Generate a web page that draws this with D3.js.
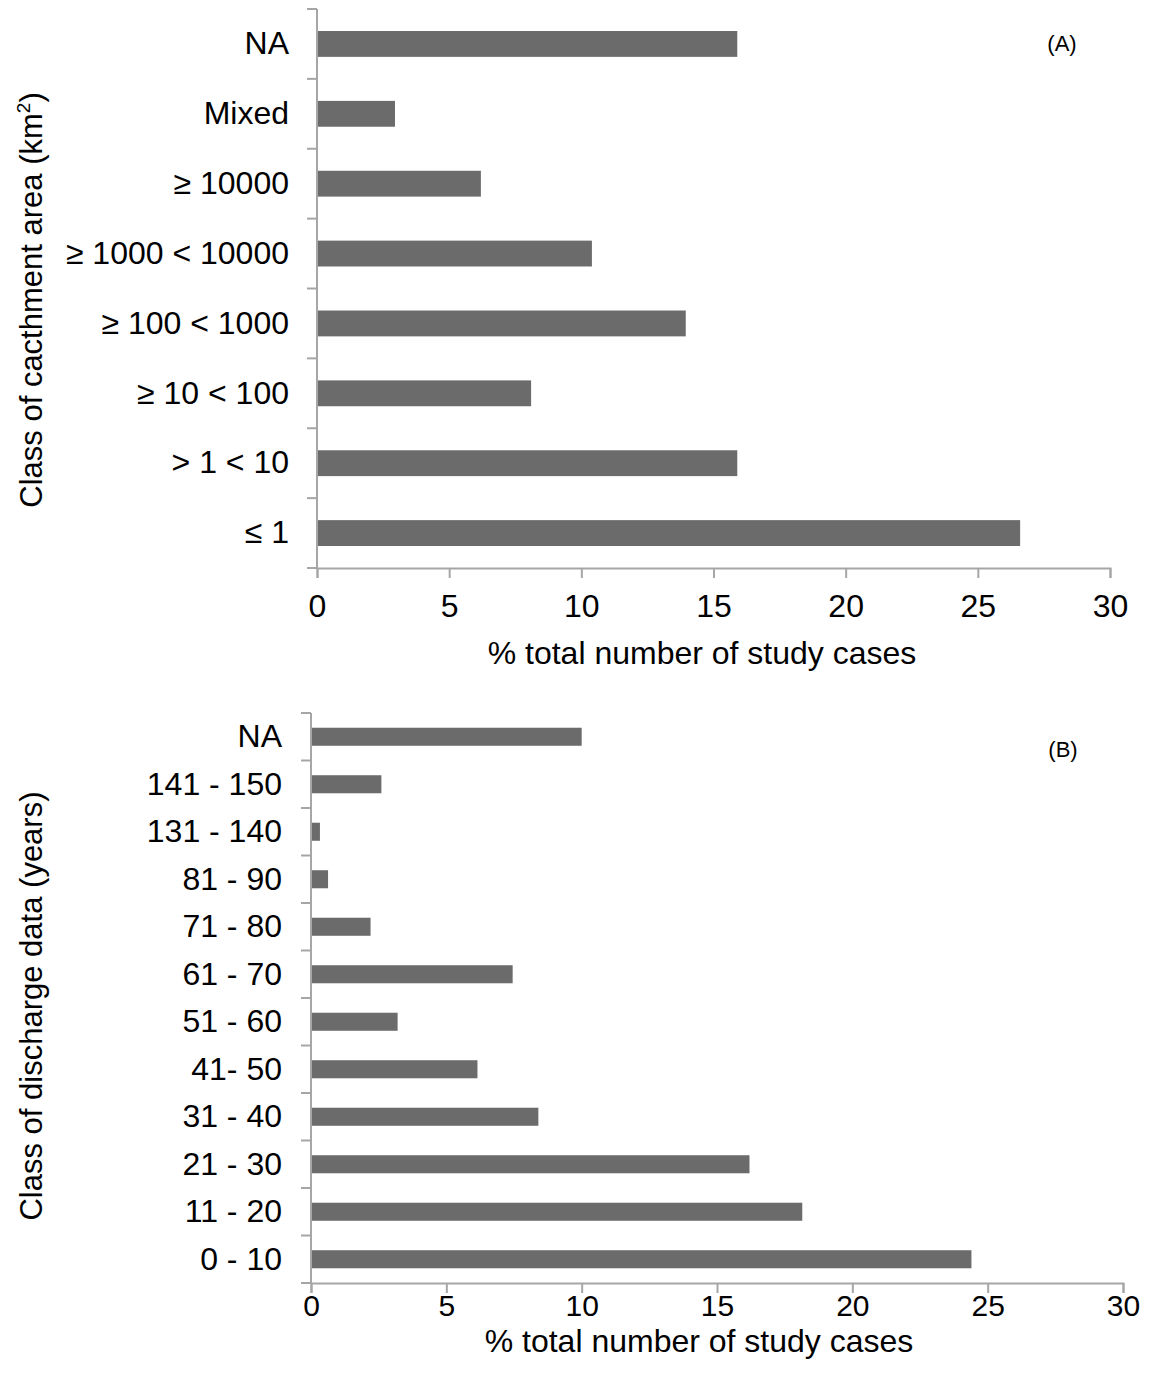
<!DOCTYPE html>
<html>
<head>
<meta charset="utf-8">
<script src="https://cdn.jsdelivr.net/npm/d3@7"></script>
<style>
  body { margin: 0; background: #fff; }
  text { font-family: "Liberation Sans", Arial, sans-serif; fill: #000; }
</style>
</head>
<body>
<div id="chart"></div>
<script>
// panel A - catchment area classes (top to bottom)
var areaClasses = ["NA", "Mixed", "\u2265 10000", "\u2265 1000 < 10000", "\u2265 100 < 1000", "\u2265 10 < 100", "> 1 < 10", "\u2264 1"];
var areaValues = [15.9, 2.95, 6.2, 10.4, 13.95, 8.1, 15.9, 26.6];

// panel B - length of discharge record (top to bottom)
var recordClasses = ["NA", "141 - 150", "131 - 140", "81 - 90", "71 - 80", "61 - 70", "51 - 60", "41- 50", "31 - 40", "21 - 30", "11 - 20", "0 - 10"];
var recordValues = [10.0, 2.6, 0.33, 0.63, 2.2, 7.45, 3.2, 6.15, 8.4, 16.2, 18.15, 24.4];

var xTicks = [0, 5, 10, 15, 20, 25, 30];

var width = 1158, height = 1379;
var barColor = "#6b6b6b", axisColor = "#a6a6a6";

var svg = d3.select("#chart").append("svg")
  .attr("width", width)
  .attr("height", height);

function drawPanel(cfg) {
  var x = d3.scaleLinear().domain([0, 30]).range([cfg.left, cfg.right]);
  var y = d3.scaleBand()
    .domain(cfg.cats)
    .range([cfg.top, cfg.bottom])
    .paddingInner(cfg.pad)
    .paddingOuter(cfg.pad / 2);
  var edge = d3.scaleLinear().domain([0, cfg.cats.length]).range([cfg.top, cfg.bottom]);

  var g = svg.append("g");

  g.selectAll(".bar")
    .data(cfg.cats)
    .enter()
    .append("rect")
    .attr("class", "bar")
    .attr("x", x(0))
    .attr("y", d => y(d))
    .attr("width", (d, i) => x(cfg.vals[i]) - x(0))
    .attr("height", y.bandwidth())
    .attr("fill", barColor);

  // category boundary ticks
  g.selectAll(".ctick")
    .data(d3.range(cfg.cats.length + 1))
    .enter()
    .append("line")
    .attr("x1", x(0) - 10).attr("x2", x(0))
    .attr("y1", d => edge(d)).attr("y2", d => edge(d))
    .attr("stroke", axisColor).attr("stroke-width", 2);

  g.append("line")
    .attr("x1", x(0)).attr("x2", x(0))
    .attr("y1", cfg.top).attr("y2", cfg.bottom)
    .attr("stroke", axisColor).attr("stroke-width", 2);

  // category labels
  var yAxis = g.append("g")
    .attr("transform", `translate(${x(0)},0)`)
    .call(d3.axisLeft(y).tickSize(0).tickPadding(cfg.labelPad));
  yAxis.select(".domain").remove();
  yAxis.selectAll("text")
    .style("font-size", cfg.font + "px")
    .style("font-family", "Liberation Sans, Arial, sans-serif")
    .attr("fill", "#000");

  var xAxis = g.append("g")
    .attr("transform", `translate(0,${cfg.bottom})`)
    .call(d3.axisBottom(x).tickValues(xTicks).tickSize(10).tickPadding(cfg.xPad));
  xAxis.select(".domain").attr("stroke", axisColor).attr("stroke-width", 2);
  xAxis.selectAll(".tick line").attr("stroke", axisColor).attr("stroke-width", 2);
  xAxis.selectAll("text")
    .style("font-size", cfg.xFont + "px")
    .style("font-family", "Liberation Sans, Arial, sans-serif")
    .attr("fill", "#000");

  g.append("text")
    .attr("x", cfg.xTitleX)
    .attr("y", cfg.xTitleY)
    .attr("text-anchor", "middle")
    .style("font-size", cfg.font + "px")
    .text("% total number of study cases");

  var yt = g.append("text")
    .attr("transform", `translate(${cfg.yTitleX},${cfg.yTitleMid}) rotate(-90)`)
    .attr("text-anchor", "middle")
    .style("font-size", "31px");
  cfg.yTitle(yt);

  g.append("text")
    .attr("x", cfg.tagX)
    .attr("y", cfg.tagY)
    .attr("text-anchor", "middle")
    .style("font-size", "22px")
    .text(cfg.tag);
}

drawPanel({
  cats: areaClasses, vals: areaValues,
  left: 317, right: 1110, top: 9, bottom: 568,
  pad: 0.63, font: 32, xFont: 32, labelPad: 28, xPad: 16,
  xTitleX: 702, xTitleY: 664, yTitleX: 42, yTitleMid: 300,
  yTitle: function(t) {
    t.append("tspan").text("Class of cacthment area (km");
    t.append("tspan").attr("dy", -12).style("font-size", "19px").text("2");
    t.append("tspan").attr("dy", 12).text(")");
  },
  tag: "(A)", tagX: 1062, tagY: 51
});

drawPanel({
  cats: recordClasses, vals: recordValues,
  left: 311, right: 1123, top: 713, bottom: 1283,
  pad: 0.62, font: 32, xFont: 30, labelPad: 29, xPad: 2,
  xTitleX: 699, xTitleY: 1352, yTitleX: 42, yTitleMid: 1006,
  yTitle: function(t) { t.text("Class of discharge data (years)"); },
  tag: "(B)", tagX: 1063, tagY: 757
});
</script>
</body>
</html>
